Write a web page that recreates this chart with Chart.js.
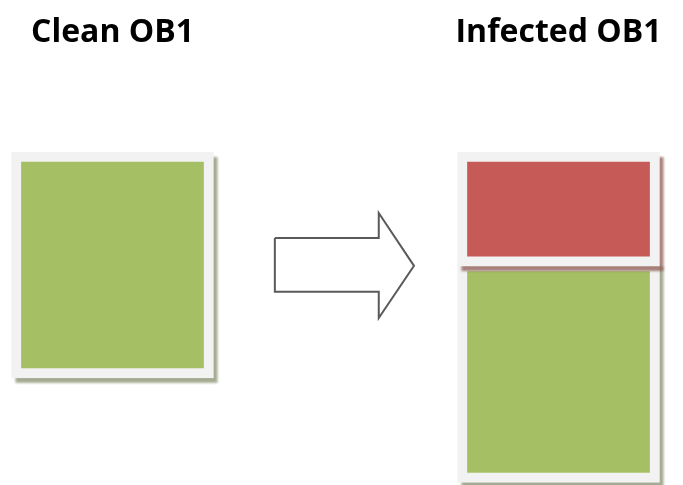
<!DOCTYPE html>
<html>
<head>
<meta charset="utf-8">
<script src="https://cdn.jsdelivr.net/npm/chart.js@4.4.1/dist/chart.umd.min.js"></script>
<style>
  html, body { margin: 0; padding: 0; background: #ffffff; }
  #wrap { width: 683px; height: 485px; position: relative; }
</style>
</head>
<body>
<div id="wrap"><canvas id="chart"></canvas></div>
<script>
// categories (file states), placed at x = 0 and x = 1
const categories = ["Clean OB1", "Infected OB1"];

// floating segments, measured from the top of each file (size units)
const hostCode = [[0, 100], [48.5, 146.3]];   // original program
const virusCode = [null, [0, 50.5]];          // appended virus part

// arrow outline between the two files
const arrowX = [0.364, 0.597, 0.597, 0.676, 0.597, 0.597, 0.364, 0.364];
const arrowY = [38.1, 38.1, 27.0, 50.4, 73.5, 61.9, 61.9, 38.1];

const frameColor = "#f2f2f2";

// draws an offset drop shadow under each bar, right before its dataset
const shadowPlugin = {
  id: "barShadow",
  beforeDatasetDraw(chart, args) {
    const meta = args.meta;
    const ds = chart.data.datasets[args.index];
    if (meta.type !== "bar" || !ds.shadowColor) return;
    const ctx = chart.ctx;
    ctx.save();
    ctx.filter = "blur(1px)";
    ctx.fillStyle = ds.shadowColor;
    meta.data.forEach(bar => {
      const p = bar.getProps(["x", "y", "base", "width"], true);
      if (isNaN(p.y) || isNaN(p.base)) return;
      const top = Math.min(p.y, p.base);
      const h = Math.abs(p.base - p.y);
      ctx.fillRect(p.x - p.width / 2 + 4, top + 5, p.width, h);
    });
    ctx.restore();
  }
};

const toPoints = arr => arr.map((v, i) => ({ x: i, y: v })).filter(p => p.y !== null);

new Chart(document.getElementById("chart"), {
  type: "bar",
  data: {
    datasets: [
      {
        type: "line",
        label: "arrow",
        data: arrowX.map((x, i) => ({ x: x, y: arrowY[i] })),
        borderColor: "#5a5a5a",
        borderWidth: 2,
        pointRadius: 0,
        tension: 0,
        fill: false
      },
      {
        label: "Virus",
        data: toPoints(virusCode),
        backgroundColor: "#c55a56",
        borderColor: frameColor,
        shadowColor: "rgba(140,90,80,0.75)",
        borderWidth: 10,
        borderSkipped: false,
        barThickness: 202,
        grouped: false
      },
      {
        label: "Program",
        data: toPoints(hostCode),
        backgroundColor: "#a5c064",
        borderColor: frameColor,
        shadowColor: "rgba(125,135,100,0.7)",
        borderWidth: 10,
        borderSkipped: false,
        barThickness: 202,
        grouped: false
      }
    ]
  },
  options: {
    responsive: true,
    maintainAspectRatio: false,
    animation: false,
    layout: { padding: { left: 0, right: 0, top: 0, bottom: 1 } },
    plugins: {
      legend: { display: false },
      tooltip: { enabled: false }
    },
    scales: {
      x: {
        type: "linear",
        position: "top",
        offset: false,
        min: -0.2522,
        max: 1.2791,
        grid: { display: false, offset: false },
        border: { display: false },
        afterBuildTicks(scale) {
          scale.ticks = categories.map((c, i) => ({ value: i }));
        },
        ticks: {
          color: "#000000",
          font: { family: "Open Sans", size: 32, weight: "bold" },
          padding: 92,
          maxRotation: 0,
          autoSkip: false,
          callback: v => categories[v]
        },
        afterFit(scale) {
          scale.height = 152;
          scale.paddingLeft = 0;
          scale.paddingRight = 0;
        }
      },
      y: {
        display: false,
        reverse: true,
        min: 0,
        max: 147
      }
    }
  },
  plugins: [shadowPlugin]
});
</script>
</body>
</html>
